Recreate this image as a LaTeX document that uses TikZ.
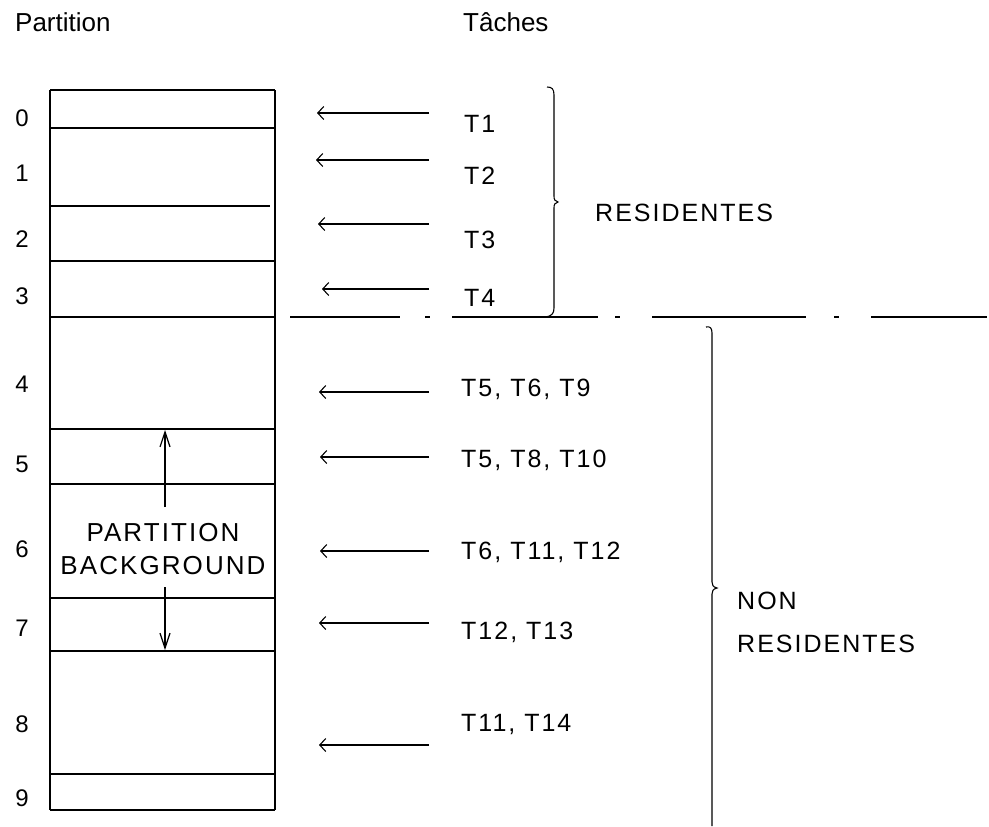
\documentclass[tikz,border=0pt]{standalone}
\usepackage{fontspec}
\setmainfont{Liberation Sans}
\newfontfamily\lab[LetterSpace=8]{Liberation Sans}
\usetikzlibrary{arrows.meta}
\begin{document}
\begin{tikzpicture}[x=1pt,y=-1pt,
  title/.style={anchor=base west,inner sep=0pt,font=\fontsize{26}{30}\selectfont},
  digit/.style={anchor=base,inner sep=0pt,font=\lab\fontsize{24}{28}\selectfont},
  task/.style={anchor=base west,inner sep=0pt,font=\lab\fontsize{25}{29}\selectfont},
  big/.style={anchor=base,inner sep=0pt,font=\lab\fontsize{26}{30}\selectfont},
  sep/.style={line width=1.8pt},
  side/.style={line width=1.1pt},
  tarrow/.style={line width=1.5pt,-{Straight Barb[length=6pt,width=13pt,line width=1.1pt]}},
  varrow/.style={line width=1.2pt,-{Straight Barb[length=15pt,width=10pt,line width=1.2pt]}},
  brace/.style={line width=1.1pt},
  dline/.style={line width=1.8pt}]
\useasboundingbox (0,0) rectangle (989,827);

% titles
\node[title] (tpart) at (15,31) {Partition};
\node[title] (ttach) at (463,31) {Tâches};

% partition box
\draw[side] (50,90) -- (50,810);
\draw[side] (275,90) -- (275,810);
\draw[sep] (50,90) -- (275,90);
\draw[sep] (50,128) -- (275,128);
\draw[sep] (50,206) -- (270,206);
\draw[sep] (50,261) -- (275,261);
\draw[sep] (50,317) -- (275,317);
\draw[sep] (50,429) -- (275,429);
\draw[sep] (50,484) -- (275,484);
\draw[sep] (50,598) -- (275,598);
\draw[sep] (50,651) -- (275,651);
\draw[sep] (50,774) -- (275,774);
\draw[sep] (50,810) -- (275,810);

% digits
\node[digit] (d0) at (22,126) {0};
\node[digit] (d1) at (22,181) {1};
\node[digit] (d2) at (22,247) {2};
\node[digit] (d3) at (22,304) {3};
\node[digit] (d4) at (22,392) {4};
\node[digit] (d5) at (22,472) {5};
\node[digit] (d6) at (22,557) {6};
\node[digit] (d7) at (22,636) {7};
\node[digit] (d8) at (22,732) {8};
\node[digit] (d9) at (22,806) {9};

% partition background
\node[big] (pb1) at (163,541) {PARTITION};
\node[big] (pb2) at (163,574) {BACKGROUND};
\coordinate (ua0) at (165,507);
\coordinate (ua1) at (165,430);
\coordinate (la0) at (165,587);
\coordinate (la1) at (165,650);
\draw[varrow] (ua0) -- (ua1);
\draw[varrow] (la0) -- (la1);

% task labels
\node[task] (t1) at (464,132) {T1};
\node[task] (t2) at (464,184) {T2};
\node[task] (t3) at (464,248) {T3};
\node[task] (t4) at (464,306) {T4};
\node[task] (t5) at (461,396) {T5, T6, T9};
\node[task] (t6) at (461,467) {T5, T8, T10};
\node[task] (t7) at (461,559) {T6, T11, T12};
\node[task] (t8) at (461,639) {T12, T13};
\node[task] (t9) at (461,731) {T11, T14};

% arrows
\foreach \n/\y/\xa in {1/113/317,2/160/316,3/224/318,4/289/322,5/392/319,6/457/320,7/551/320,8/623/319,9/745/319}{
  \coordinate (as\n) at (429,\y);
  \coordinate (ae\n) at (\xa,\y);
  \draw[tarrow] (as\n) -- (ae\n);
}

% dash-dot separator
\draw[dline] (290,317) -- (400,317);
\draw[dline] (425,317) -- (430,317);
\draw[dline] (452,317) -- (598,317);
\draw[dline] (615,317) -- (620,317);
\draw[dline] (652,317) -- (806,317);
\draw[dline] (834,317) -- (839,317);
\draw[dline] (871,317) -- (987,317);

% upper brace
\draw[brace] (547,87) .. controls (552,87) and (554,89) .. (554,95) -- (554,196)
  .. controls (554,200) and (555,201) .. (558,202)
  .. controls (555,203) and (554,204) .. (554,208) -- (554,308)
  .. controls (554,313) and (552,316) .. (546,317);
\node[task] (res) at (595,221) {RESIDENTES};

% lower brace
\draw[brace] (706,327) .. controls (710,326) and (712,328) .. (712,333) -- (712,582)
  .. controls (712,585) and (713,587) .. (717,588)
  .. controls (713,589) and (712,591) .. (712,594) -- (712,826);
\node[task] (non1) at (737,609) {NON};
\node[task] (non2) at (737,652) {RESIDENTES};
\end{tikzpicture}
\end{document}
